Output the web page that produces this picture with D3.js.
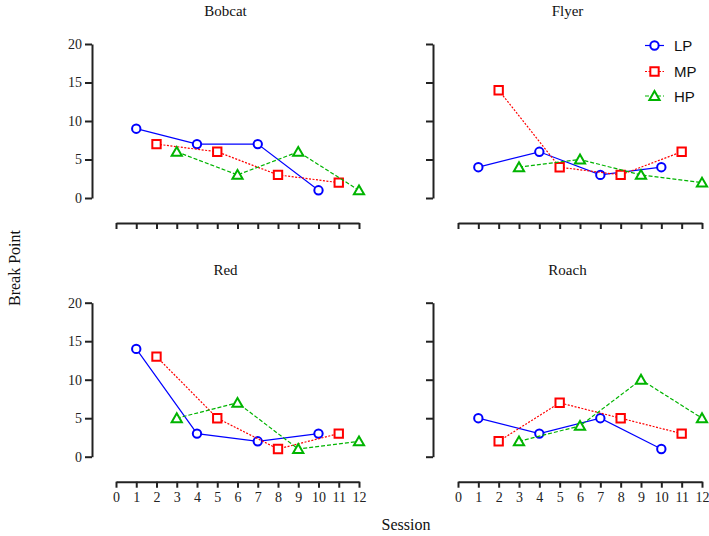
<!DOCTYPE html>
<html><head><meta charset="utf-8">
<script src="https://cdn.jsdelivr.net/npm/d3@7"></script>
<style>body{margin:0;background:#fff}</style>
</head><body>
<script>
const panels = ["Bobcat", "Flyer", "Red", "Roach"];
const seriesNames = ["LP", "MP", "HP"];
const sessionsLP = [1, 4, 7, 10];
const sessionsMP = [2, 5, 8, 11];
const sessionsHP = [3, 6, 9, 12];
const bobcatLP = [9, 7, 7, 1];
const bobcatMP = [7, 6, 3, 2];
const bobcatHP = [6, 3, 6, 1];
const flyerLP = [4, 6, 3, 4];
const flyerMP = [14, 4, 3, 6];
const flyerHP = [4, 5, 3, 2];
const redLP = [14, 3, 2, 3];
const redMP = [13, 5, 1, 3];
const redHP = [5, 7, 1, 2];
const roachLP = [5, 3, 5, 1];
const roachMP = [2, 7, 5, 3];
const roachHP = [2, 4, 10, 5];
const xTicks = [0,1,2,3,4,5,6,7,8,9,10,11,12];
const yTicks = [0,5,10,15,20];

const panelData = {
  Bobcat: [bobcatLP, bobcatMP, bobcatHP],
  Flyer: [flyerLP, flyerMP, flyerHP],
  Red: [redLP, redMP, redHP],
  Roach: [roachLP, roachMP, roachHP]
};
const sessions = [sessionsLP, sessionsMP, sessionsHP];
const colors = ["#0000ff", "#ff0000", "#00b400"];
const dashes = [null, "2,1.5", "4,2"];
const symbols = [d3.symbolCircle, d3.symbolSquare, d3.symbolTriangle];
const symSizes = [55, 70, 45];

const W = 709, H = 536;
const svg = d3.select("body").append("svg").attr("width", W).attr("height", H);
const serif = "'Liberation Serif','Times New Roman',serif";
const sans = "'Liberation Sans',Arial,sans-serif";

const layout = [
  {ax: 92, x0: 116, x1: 359, yTop: 44, yBot: 198, xAxisY: 223, labels: false, showY: true},
  {ax: 433, x0: 458, x1: 702, yTop: 44, yBot: 198, xAxisY: 223, labels: false, showY: false},
  {ax: 92, x0: 116, x1: 359, yTop: 302.7, yBot: 456.7, xAxisY: 481.7, labels: true, showY: true},
  {ax: 433, x0: 458, x1: 702, yTop: 302.7, yBot: 456.7, xAxisY: 481.7, labels: true, showY: false}
];

panels.forEach((name, i) => {
  const L = layout[i];
  const x = d3.scaleLinear().domain([0, 12]).range([L.x0, L.x1]);
  const y = d3.scaleLinear().domain([0, 20]).range([L.yBot, L.yTop]);
  const g = svg.append("g");

  // y axis
  const yAx = g.append("g").attr("transform", `translate(${L.ax},0)`)
    .call(d3.axisLeft(y).tickValues(yTicks).tickSize(7).tickSizeOuter(0).tickPadding(3)
      .tickFormat(L.showY ? d3.format("d") : () => ""));
  yAx.select(".domain").attr("stroke", "#222").attr("stroke-width", 2);
  yAx.selectAll(".tick line").attr("stroke", "#222").attr("stroke-width", 2);
  yAx.selectAll("text").attr("font-family", serif).attr("font-size", 14).attr("fill", "#222");

  // x axis
  const xAx = g.append("g").attr("transform", `translate(0,${L.xAxisY})`)
    .call(d3.axisBottom(x).tickValues(xTicks).tickSize(6).tickSizeOuter(0).tickPadding(4)
      .tickFormat(L.labels ? d3.format("d") : () => ""));
  xAx.select(".domain").attr("stroke", "#222").attr("stroke-width", 2);
  xAx.selectAll(".tick line").attr("stroke", "#222").attr("stroke-width", 2);
  xAx.selectAll("text").attr("font-family", serif).attr("font-size", 14).attr("fill", "#222");

  // title
  g.append("text").attr("x", (L.ax + L.x1) / 2).attr("y", L.yTop - 28)
    .attr("text-anchor", "middle").attr("font-family", serif).attr("font-size", 15)
    .attr("fill", "#111").text(name);

  const line = d3.line().x(d => x(d[0])).y(d => y(d[1]));
  panelData[name].forEach((vals, s) => {
    const pts = vals.map((v, k) => [sessions[s][k], v]);
    g.append("path").datum(pts).attr("d", line).attr("fill", "none")
      .attr("stroke", colors[s]).attr("stroke-width", 1.2)
      .attr("stroke-dasharray", dashes[s]);
    g.selectAll(null).data(pts).enter().append("path")
      .attr("transform", d => `translate(${x(d[0])},${y(d[1]) + (s === 2 ? 1 : 0)})`)
      .attr("d", d3.symbol().type(symbols[s]).size(symSizes[s]))
      .attr("fill", "#fff").attr("stroke", colors[s]).attr("stroke-width", 2);
  });
});

// legend
seriesNames.forEach((n, s) => {
  const ly = [45.5, 71.5, 96][s];
  const lg = svg.append("g");
  lg.append("line").attr("x1", 645).attr("x2", 664).attr("y1", ly).attr("y2", ly)
    .attr("stroke", colors[s]).attr("stroke-width", 1.2).attr("stroke-dasharray", dashes[s]);
  lg.append("path").attr("transform", `translate(654.5,${ly + (s === 2 ? 1 : 0)})`)
    .attr("d", d3.symbol().type(symbols[s]).size(symSizes[s]))
    .attr("fill", "#fff").attr("stroke", colors[s]).attr("stroke-width", 2);
  lg.append("text").attr("x", 674).attr("y", ly + 5.5).attr("font-family", sans)
    .attr("font-size", 15).attr("fill", "#111").text(n);
});

// axis titles
svg.append("text").attr("transform", "translate(20,268) rotate(-90)")
  .attr("text-anchor", "middle").attr("font-family", serif).attr("font-size", 16)
  .attr("fill", "#111").text("Break Point");
svg.append("text").attr("x", 406).attr("y", 530)
  .attr("text-anchor", "middle").attr("font-family", serif).attr("font-size", 16)
  .attr("fill", "#111").text("Session");
</script>
</body></html>
